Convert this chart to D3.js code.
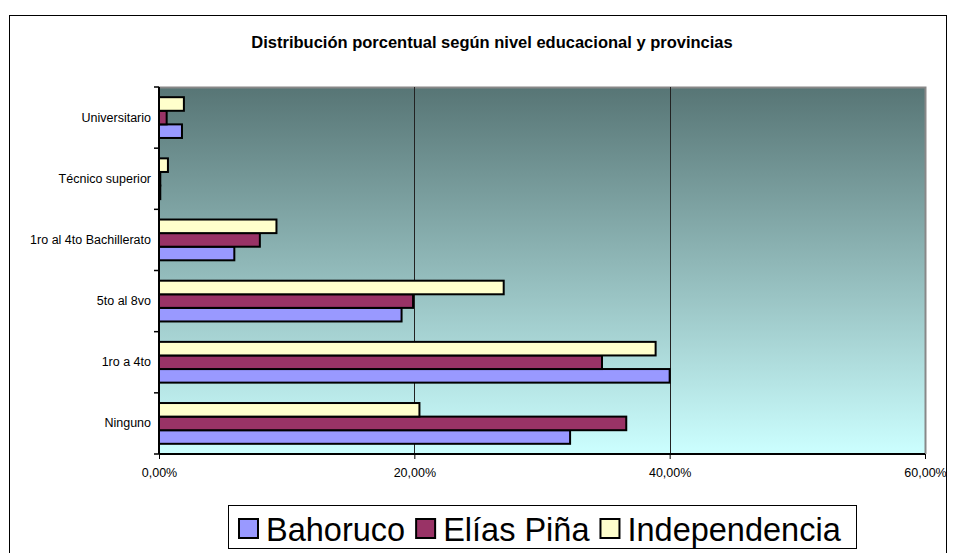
<!DOCTYPE html>
<html><head><meta charset="utf-8">
<script src="https://cdn.jsdelivr.net/npm/d3@7"></script>
<style>body{margin:0;background:#fff}svg{display:block}text{font-family:"Liberation Sans",Arial,sans-serif}</style>
</head><body>
<script>
const categories = ["Ninguno","1ro a 4to","5to al 8vo","1ro al 4to Bachillerato","Técnico superior","Universitario"];
const seriesNames = ["Bahoruco","Elías Piña","Independencia"];
const bahoruco = [32.2, 40.0, 19.0, 5.9, 0.1, 1.8];
const eliasPina = [36.6, 34.7, 19.9, 7.9, 0.1, 0.6];
const independencia = [20.4, 38.9, 27.0, 9.2, 0.7, 1.95];
const xTicks = [0, 20, 40, 60];
const colors = ["#9999ff","#993366","#ffffcc"];
const title = "Distribución porcentual según nivel educacional y provincias";

const W = 955, H = 553;
const svg = d3.select("body").append("svg").attr("width", W).attr("height", H);
const defs = svg.append("defs");
const g1 = defs.append("linearGradient").attr("id","bg").attr("x1",0).attr("y1",0).attr("x2",0).attr("y2",1);
g1.append("stop").attr("offset","0%").attr("stop-color","#577575");
g1.append("stop").attr("offset","100%").attr("stop-color","#ccffff");

// outer chart border
svg.append("rect").attr("x",9.5).attr("y",15.5).attr("width",937).attr("height",560)
  .attr("fill","#fff").attr("stroke","#000").attr("stroke-width",1);

svg.append("text").attr("x",492).attr("y",48).attr("text-anchor","middle")
  .attr("font-size",16.5).attr("font-weight","bold").text(title);

const L = 159, R = 925, T = 87, B = 454;
const x = d3.scaleLinear().domain([0,60]).range([L,R]);
const y = d3.scaleBand().domain(categories).range([B,T]);

// plot background
svg.append("rect").attr("x",L).attr("y",T).attr("width",R-L).attr("height",B-T).attr("fill","url(#bg)");
// plot border top/right gray
svg.append("path").attr("d",`M${L},${T+0.5}H${R+0.5}V${B}`).attr("fill","none").attr("stroke","#888").attr("stroke-width",2);

// gridlines
svg.append("g").selectAll("line").data(xTicks.filter(d=>d>0 && d<60)).join("line")
  .attr("x1",d=>Math.round(x(d))+0.5).attr("x2",d=>Math.round(x(d))+0.5).attr("y1",T).attr("y2",B)
  .attr("stroke","#222").attr("stroke-width",1);

// bars
const series = [bahoruco, eliasPina, independencia];
const bh = y.bandwidth()/4.5;
const gap = (y.bandwidth() - 3*bh)/2;
series.forEach((vals, si) => {
  svg.append("g").selectAll("rect").data(categories).join("rect")
    .attr("x", x(0))
    .attr("y", (c) => y(c) + gap + (2 - si)*bh)
    .attr("width", (c,i) => x(vals[i]) - x(0))
    .attr("height", bh)
    .attr("fill", colors[si]).attr("stroke","#000").attr("stroke-width",2);
});

// axes
const yAxis = d3.axisLeft(y).tickSize(0).tickPadding(8);
const ya = svg.append("g").attr("transform",`translate(${L},0)`).call(yAxis);
ya.select(".domain").remove();
ya.selectAll("text").attr("font-size",12.5).attr("fill","#000").style("font-family","Liberation Sans, Arial, sans-serif");
svg.append("line").attr("x1",L).attr("x2",L).attr("y1",T).attr("y2",B).attr("stroke","#000").attr("stroke-width",2);
const bounds = categories.map(c=>y(c)).concat([B]);
svg.append("g").selectAll("line").data(bounds).join("line")
  .attr("x1",L-5).attr("x2",L).attr("y1",d=>d).attr("y2",d=>d).attr("stroke","#000").attr("stroke-width",1.5);

const xAxis = d3.axisBottom(x).tickValues(xTicks).tickSize(5).tickPadding(9)
  .tickFormat(d => d3.format(".2f")(d).replace(".",",") + "%");
const xa = svg.append("g").attr("transform",`translate(0,${B})`).call(xAxis);
xa.select(".domain").attr("stroke","#000").attr("stroke-width",2).attr("d",`M${L},0H${R}`);
xa.selectAll(".tick line").attr("stroke","#000");
xa.selectAll("text").attr("font-size",12.5).attr("fill","#000").style("font-family","Liberation Sans, Arial, sans-serif");

// legend
const lg = svg.append("g");
lg.append("rect").attr("x",228.5).attr("y",505.5).attr("width",628).attr("height",43).attr("fill","#fff").attr("stroke","#000").attr("stroke-width",1);
let lx = 239;
seriesNames.forEach((n,i)=>{
  lg.append("rect").attr("x",lx).attr("y",519).attr("width",19).attr("height",19)
    .attr("fill",colors[i]).attr("stroke","#000").attr("stroke-width",2);
  const t = lg.append("text").attr("x",lx+27).attr("y",541).attr("font-size",32.5).attr("fill","#000").text(n);
  lx = lx + 27 + t.node().getComputedTextLength() + 11;
});
</script>
</body></html>
